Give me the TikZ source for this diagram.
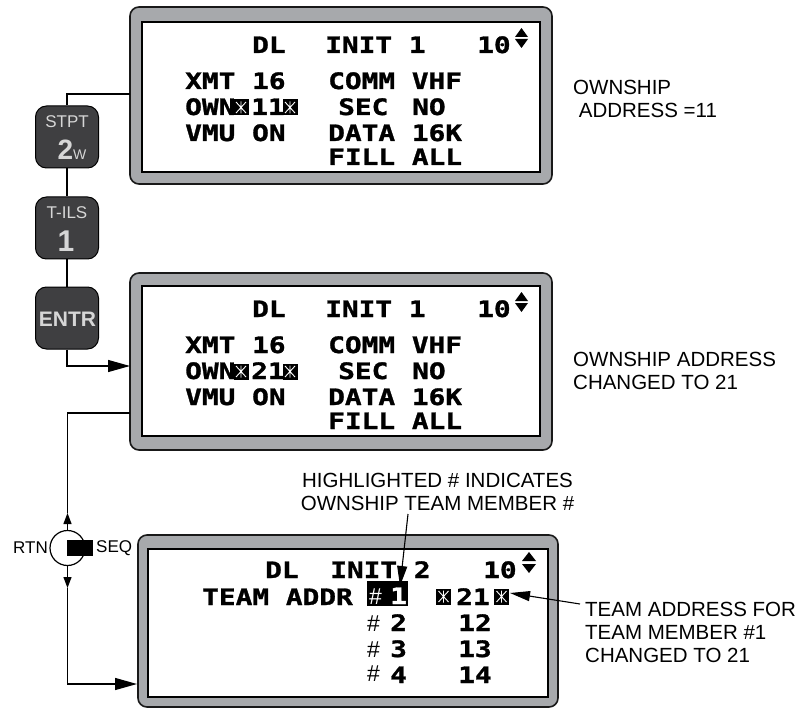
\documentclass[tikz,border=0pt]{standalone}
\usepackage{fontspec}
\setmainfont{Liberation Sans}
\newfontfamily\lcdfont[FakeStretch=1.23, FakeBold=1.3]{DejaVu Sans Mono Bold}
\usetikzlibrary{arrows.meta}

\definecolor{bezelgray}{HTML}{A7A9AC}
\definecolor{keygray}{HTML}{3F3F41}
\definecolor{keytext}{HTML}{D6D6D6}

\begin{document}
\begin{tikzpicture}[x=1pt, y=-1pt,
  bezelbox/.style={draw=black!90, line width=1.6pt, fill=bezelgray, rounded corners=9pt,
                   minimum width=422pt, minimum height=177pt, inner sep=0},
  lcd/.style={draw=black, line width=1.6pt, fill=white, minimum width=398pt,
              minimum height=150pt, inner sep=0},
  button/.style={draw=black, line width=1pt, fill=keygray, rounded corners=11pt,
                 minimum width=63pt, minimum height=62pt, inner sep=0},
  keylbl/.style={text=keytext, inner sep=0, font=\fontsize{17}{17}\selectfont},
  lcdtxt/.style={anchor=base west, inner sep=0, font=\lcdfont\fontsize{22.6}{22.6}\selectfont},
  hashtxt/.style={anchor=base west, inner sep=0, font=\fontsize{23}{23}\selectfont},
  starbox/.style={fill=black, minimum width=15pt, minimum height=16pt, inner sep=0,
    path picture={
      \draw[white, line width=0.9pt]
        ([shift={(2.5pt,2.5pt)}]path picture bounding box.south west) --
        ([shift={(-2.5pt,-2.5pt)}]path picture bounding box.north east)
        ([shift={(2.5pt,-2.5pt)}]path picture bounding box.north west) --
        ([shift={(-2.5pt,2.5pt)}]path picture bounding box.south east)
        ([shift={(0pt,-2pt)}]path picture bounding box.north) --
        ([shift={(0pt,2pt)}]path picture bounding box.south);
    }},
  note/.style={anchor=north west, inner sep=0, align=left, font=\fontsize{20.5}{23}\selectfont},
  wire/.style={line width=1.3pt},
  arrow/.style={-{Triangle[length=22pt, width=12pt]}, line width=1.3pt},
  swarrow/.style={-{Triangle[length=11pt, width=8pt]}, line width=1.3pt},
  leader/.style={-{Triangle[length=20pt, width=10pt]}, line width=1.1pt}
]
\useasboundingbox (0,0) rectangle (800,711);

% Screens
\node[bezelbox] (scr1) at (341,95.5) {};
\node[lcd] (lcd1) at (341,97) {};
\node[bezelbox] (scr2) at (341,361.5) {};
\node[lcd] (lcd2) at (341,361) {};
\node[bezelbox, minimum width=420pt, minimum height=172pt] (scr3) at (348,621) {};
\node[lcd, minimum width=400pt, minimum height=148pt] (lcd3) at (348,623) {};

% Page 1 text
\node[lcdtxt] (dl1) at (252,53) {DL};
\node[lcdtxt] (init1) at (325,53) {INIT 1};
\node[lcdtxt] (pg1) at (477,53) {10};
\fill (515,37) -- (528,37) -- (521.5,28) -- cycle;
\fill (515,39) -- (528,39) -- (521.5,48) -- cycle;
\node[lcdtxt] (xmt1) at (185,89) {XMT 16};
\node[lcdtxt] (comm1) at (328,89) {COMM VHF};
\node[lcdtxt] (own1) at (185,115) {OWN};
\node[starbox] (sb1) at (241,107.5) {};
\node[lcdtxt] (addr1) at (251,115) {11};
\node[starbox] (sb2) at (290,107.5) {};
\node[lcdtxt] (sec1) at (338,115) {SEC};
\node[lcdtxt] (no1) at (412,115) {NO};
\node[lcdtxt] (vmu1) at (185,141) {VMU ON};
\node[lcdtxt] (data1) at (328,141) {DATA 16K};
\node[lcdtxt] (fill1) at (328,165) {FILL ALL};

% Page 1 after entry
\node[lcdtxt] (dl2) at (252,317) {DL};
\node[lcdtxt] (init2) at (325,317) {INIT 1};
\node[lcdtxt] (pg2) at (477,317) {10};
\fill (515,301) -- (528,301) -- (521.5,292) -- cycle;
\fill (515,303) -- (528,303) -- (521.5,312) -- cycle;
\node[lcdtxt] (xmt2) at (185,353) {XMT 16};
\node[lcdtxt] (comm2) at (328,353) {COMM VHF};
\node[lcdtxt] (own2) at (185,379) {OWN};
\node[starbox] (sb3) at (241,371.5) {};
\node[lcdtxt] (addr2) at (251,379) {21};
\node[starbox] (sb4) at (290,371.5) {};
\node[lcdtxt] (sec2) at (338,379) {SEC};
\node[lcdtxt] (no2) at (412,379) {NO};
\node[lcdtxt] (vmu2) at (185,405) {VMU ON};
\node[lcdtxt] (data2) at (328,405) {DATA 16K};
\node[lcdtxt] (fill2) at (328,429) {FILL ALL};

% Page 2
\node[lcdtxt] (dl3) at (265,578) {DL};
\node[lcdtxt] (init3) at (330,578) {INIT 2};
\node[lcdtxt] (pg3) at (483,578) {10};
\fill (522,561) -- (536,561) -- (529,552) -- cycle;
\fill (522,564) -- (536,564) -- (529,573) -- cycle;
\node[lcdtxt] (team) at (202,605) {TEAM ADDR};
\node[fill=black, minimum width=41pt, minimum height=25pt, inner sep=0] (own3) at (387,593.5) {};
\node[hashtxt, text=white] (hash1) at (369,604) {\#};
\node[lcdtxt, text=white] (mem1) at (390,604) {1};
\node[starbox] (sb5) at (443.5,596.5) {};
\node[lcdtxt] (addr3) at (456,605) {21};
\node[starbox] (sb6) at (501.5,596.5) {};
\node[hashtxt] (hash2) at (367,631) {\#};
\node[lcdtxt] (mem2) at (390,631) {2};
\node[lcdtxt] (addr4) at (458,631) {12};
\node[hashtxt] (hash3) at (367,657) {\#};
\node[lcdtxt] (mem3) at (390,657) {3};
\node[lcdtxt] (addr5) at (458,657) {13};
\node[hashtxt] (hash4) at (367,681) {\#};
\node[lcdtxt] (mem4) at (390,683) {4};
\node[lcdtxt] (addr6) at (458,683) {14};

% Keys
\node[button] (stpt) at (67,137) {};
\node[keylbl] (stptlbl) at (67,121.5) {STPT};
\node[keylbl, anchor=base] (stptnum) at (72,160)
  {\fontsize{28}{28}\selectfont\bfseries 2\fontsize{14}{14}\selectfont\mdseries W};
\node[button] (tils) at (67,228) {};
\node[keylbl] (tilslbl) at (67,212.5) {T-ILS};
\node[keylbl, anchor=base, font=\bfseries\fontsize{30}{30}\selectfont] (tilsnum) at (66,252) {1};
\node[button] (entr) at (67,318) {};
\node[keylbl, font=\bfseries\fontsize{21}{21}\selectfont] (entrlbl) at (67.5,319.5) {ENTR};

% RTN/SEQ switch
\node[draw, circle, line width=1.2pt, minimum size=35pt, inner sep=0] (rtnseq) at (67.5,548) {};
\node[fill=black, anchor=west, minimum width=26pt, minimum height=16pt, inner sep=0] (knob) at (67,548) {};
\node[anchor=east, inner sep=0, font=\fontsize{17}{17}\selectfont] (rtn) at (48,548) {RTN};
\node[anchor=west, inner sep=0, font=\fontsize{17}{17}\selectfont] (seq) at (96,548) {SEQ};

% Notes
\node[note] (ownnote1) at (573,80) {OWNSHIP\\\hspace*{5.7pt}ADDRESS =11};
\node[note] (ownnote2) at (573,352) {OWNSHIP ADDRESS\\CHANGED TO 21};
\node[note, align=center, anchor=north] (hlnote) at (437.5,473) {HIGHLIGHTED \# INDICATES\\OWNSHIP TEAM MEMBER \#};
\node[note] (teamnote) at (585,602) {TEAM ADDRESS FOR\\TEAM MEMBER \#1\\CHANGED TO 21};

% Connectors
\coordinate (s1west) at (130,94);
\coordinate (s2in) at (130,366);
\coordinate (s2west) at (130,413);
\coordinate (uptip) at (67.5,513);
\coordinate (dntip) at (67.5,588);
\coordinate (s3in) at (137,684);
\draw[wire] (s1west) -| (stpt);
\draw[wire] (stpt) -- (tils);
\draw[wire] (tils) -- (entr);
\draw[arrow] (entr) |- (s2in);
\draw[wire] (s2west) -| (uptip);
\draw[swarrow] (rtnseq) -- (uptip);
\draw[swarrow] (rtnseq) -- (dntip);
\draw[arrow] (dntip) |- (s3in);

% Leaders
\coordinate (hlfoot) at (408,514);
\coordinate (hltip) at (400,586);
\draw[leader] (hlfoot) -- (hltip);
\coordinate (teamfoot) at (580,604);
\coordinate (teamtip) at (510,593);
\draw[leader] (teamfoot) -- (teamtip);

\end{tikzpicture}
\end{document}
